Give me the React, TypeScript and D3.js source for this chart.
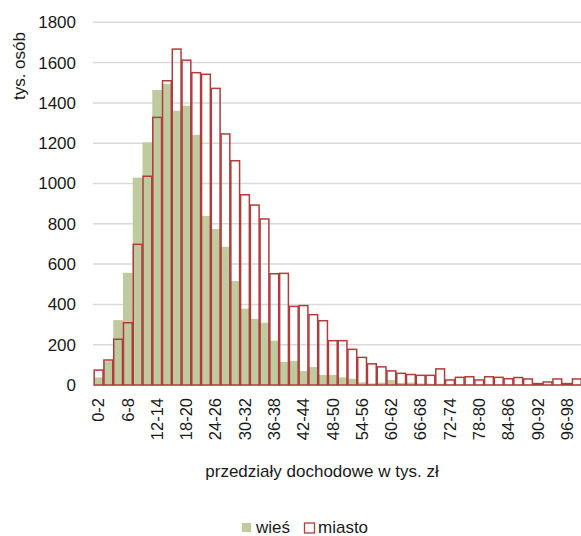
import * as d3 from 'd3'

// income brackets, thousands of zł
const brackets = [
  '0-2', '2-4', '4-6', '6-8', '8-10', '10-12', '12-14', '14-16', '16-18', '18-20',
  '20-22', '22-24', '24-26', '26-28', '28-30', '30-32', '32-34', '34-36', '36-38', '38-40',
  '40-42', '42-44', '44-46', '46-48', '48-50', '50-52', '52-54', '54-56', '56-58', '58-60',
  '60-62', '62-64', '64-66', '66-68', '68-70', '70-72', '72-74', '74-76', '76-78', '78-80',
  '80-82', '82-84', '84-86', '86-88', '88-90', '90-92', '92-94', '94-96', '96-98', '98-100',
]

// thousands of persons
const wies = [
  38, 118, 322, 557, 1029, 1204, 1464, 1494, 1361, 1386,
  1241, 839, 774, 686, 516, 379, 328, 309, 220, 115,
  120, 69, 89, 50, 50, 38, 31, 13, 8, 12,
  25, 10, 12, 8, 6, 6, 0, 0, 0, 0,
  0, 0, 0, 0, 0, 0, 0, 0, 0, 0,
]

const miasto = [
  74, 124, 227, 309, 698, 1036, 1328, 1510, 1667, 1612,
  1550, 1542, 1472, 1246, 1113, 944, 893, 824, 552, 554,
  390, 394, 349, 319, 220, 220, 177, 137, 105, 90,
  70, 58, 52, 48, 48, 80, 25, 38, 41, 25,
  41, 38, 31, 37, 30, 7, 15, 30, 7, 30,
]

const yTicks = [0, 200, 400, 600, 800, 1000, 1200, 1400, 1600, 1800]

const GREEN = '#bfcb9f'
const RED = '#b03c3c'
const FONT = '"Liberation Sans", Arial, sans-serif'

export default function App() {
  const width = 581
  const height = 536

  const x = d3.scaleBand<string>().domain(brackets).range([93.7, 581.7]).padding(0)
  const y = d3.scaleLinear().domain([0, 1800]).range([385, 22.3])

  const bw = x.bandwidth()

  return (
    <div style={{ position: 'fixed', left: 0, top: 0 }}>
      <svg width={width} height={height} style={{ display: 'block', background: '#fff' }}>
        {/* gridlines */}
        {yTicks.map((t) => (
          <line key={t} x1={93} x2={width} y1={y(t)} y2={y(t)} stroke="#d9d9d9" strokeWidth={1.5} />
        ))}

        {/* y tick labels */}
        {yTicks.map((t) => (
          <text
            key={'l' + t}
            x={76}
            y={y(t)}
            dy="0.35em"
            textAnchor="end"
            fontFamily={FONT}
            fontSize={17}
            fill="#1a1a1a"
          >
            {t}
          </text>
        ))}

        {/* wieś bars */}
        {brackets.map((b, i) => (
          <rect key={'w' + b} x={x(b)} y={y(wies[i])} width={bw} height={y(0) - y(wies[i])} fill={GREEN} />
        ))}

        {/* miasto bars (outline only) */}
        {brackets.map((b, i) => (
          <rect
            key={'m' + b}
            x={(x(b) ?? 0) + 0.5}
            y={y(miasto[i])}
            width={bw - 1}
            height={y(0) - y(miasto[i])}
            fill="none"
            stroke={RED}
            strokeWidth={1.5}
          />
        ))}

        {/* x labels every third bracket */}
        {brackets.map((b, i) =>
          i % 3 === 0 ? (
            <text
              key={'x' + b}
              transform={`translate(${(x(b) ?? 0) + bw / 2},398) rotate(-90)`}
              dy="0.35em"
              textAnchor="end"
              fontFamily={FONT}
              fontSize={16.5}
              fill="#1a1a1a"
            >
              {b}
            </text>
          ) : null
        )}

        {/* axis titles */}
        <text
          transform="translate(25,32) rotate(-90)"
          textAnchor="end"
          fontFamily={FONT}
          fontSize={17}
          fill="#1a1a1a"
        >
          tys. osób
        </text>
        <text x={322} y={477} textAnchor="middle" fontFamily={FONT} fontSize={17} fill="#1a1a1a">
          przedziały dochodowe w tys. zł
        </text>

        {/* legend */}
        <rect x={242} y={523} width={9} height={9} fill={GREEN} />
        <text x={256} y={533} fontFamily={FONT} fontSize={17} fill="#1a1a1a">
          wieś
        </text>
        <rect x={304.5} y={523} width={10} height={10} fill="#fff" stroke={RED} strokeWidth={1.3} />
        <text x={318} y={533} fontFamily={FONT} fontSize={17} fill="#1a1a1a">
          miasto
        </text>
      </svg>
    </div>
  )
}
